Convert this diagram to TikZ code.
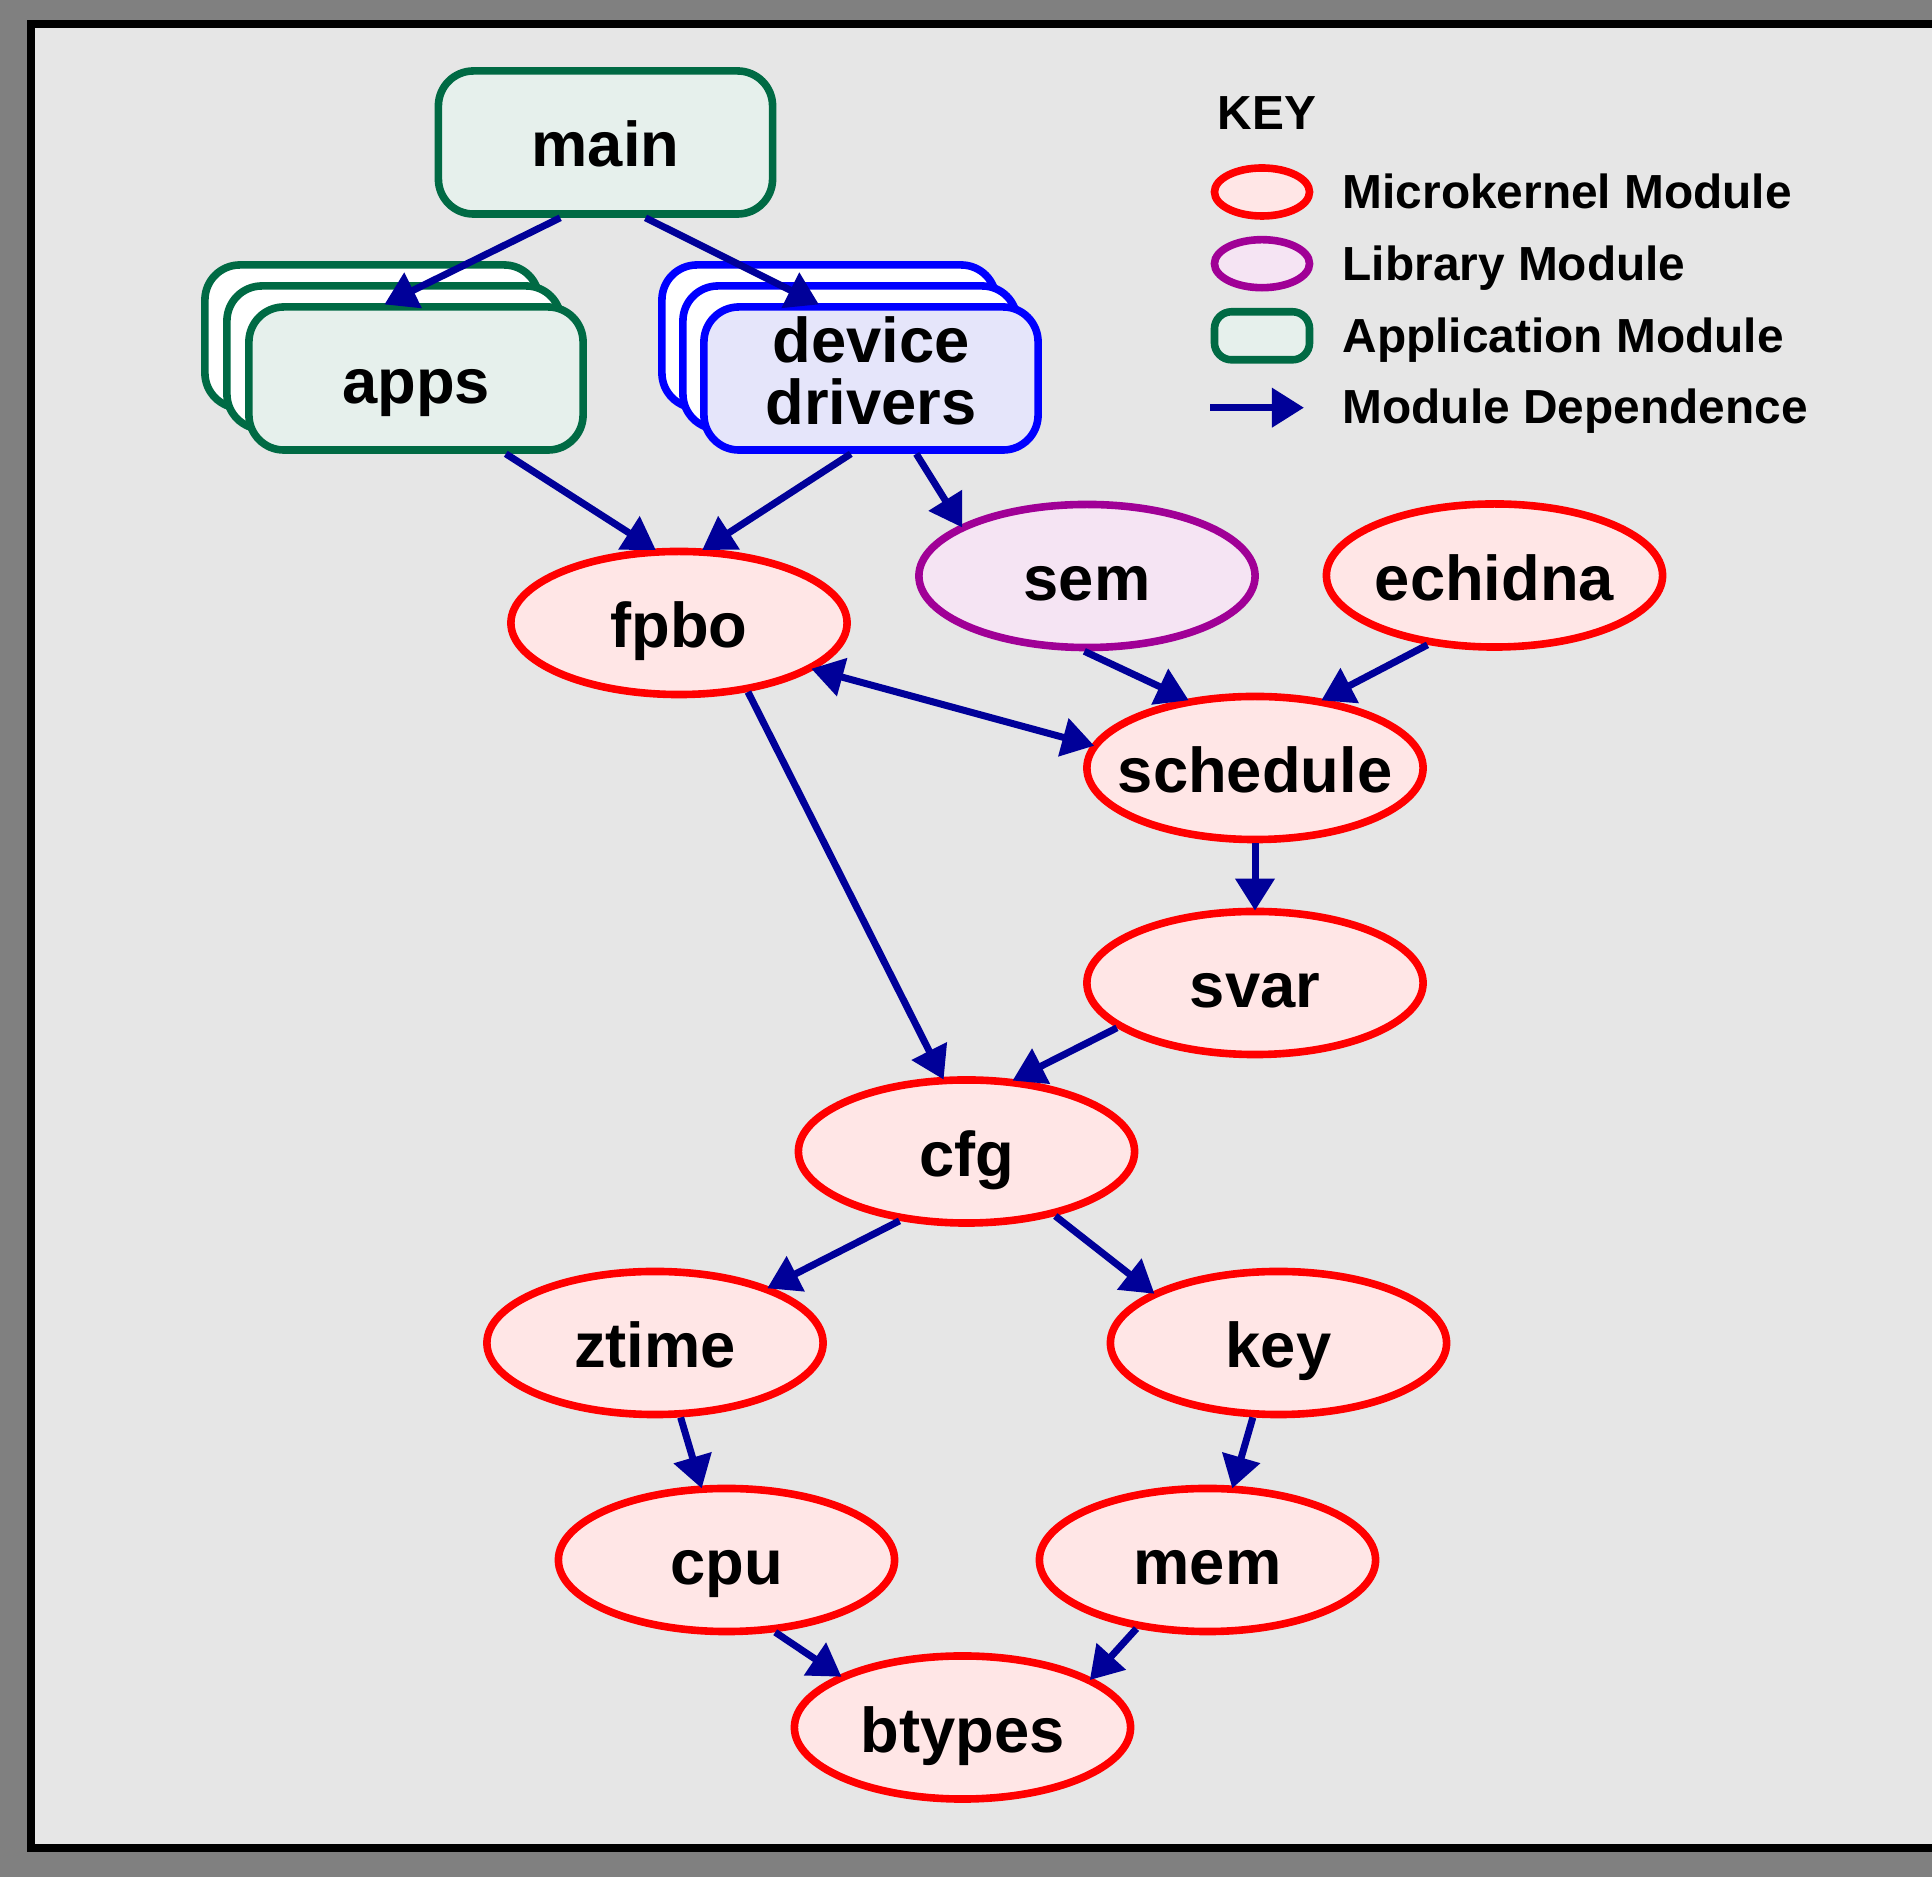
\documentclass[tikz,border=0pt]{standalone}
\usepackage{fontspec}
\setmainfont{Liberation Sans}
\usetikzlibrary{shapes.geometric,arrows.meta}
\definecolor{kframe}{RGB}{128,128,128}
\definecolor{kbg}{RGB}{230,230,230}
\definecolor{kred}{RGB}{255,0,0}
\definecolor{kredfill}{RGB}{255,230,230}
\definecolor{klib}{RGB}{160,0,150}
\definecolor{klibfill}{RGB}{245,228,243}
\definecolor{kapp}{RGB}{0,106,68}
\definecolor{kappfill}{RGB}{230,240,236}
\definecolor{kdrv}{RGB}{0,0,255}
\definecolor{kdrvfill}{RGB}{229,229,250}
\definecolor{kdep}{RGB}{0,0,153}
\begin{document}
\begin{tikzpicture}[x=0.01cm,y=-0.01cm,
    >={Triangle[length=0.32cm,width=0.38cm]},
    modtext/.style={font=\fontsize{18}{17.8}\selectfont\bfseries,
      text height=0.5cm,text depth=0.01cm,inner sep=0pt},
    keytext/.style={font=\fontsize{13.6}{15}\selectfont\bfseries,
      inner sep=0pt,anchor=base west},
    micro/.style={ellipse,draw=kred,fill=kredfill,line width=0.076cm,inner sep=0pt},
    lib/.style={micro,draw=klib,fill=klibfill},
    app/.style={rectangle,draw=kapp,fill=kappfill,line width=0.076cm,inner sep=0pt},
    drv/.style={app,draw=kdrv,fill=kdrvfill},
    module/.style={minimum width=3.36cm,minimum height=1.43cm,
      label={[modtext]center:#1}},
    box/.style={rounded corners=0.35cm,minimum width=3.34cm,
      minimum height=1.43cm,modtext},
    keyshape/.style={minimum width=0.95cm,minimum height=0.48cm}]
  \useasboundingbox (0,0) rectangle (1932,1877);
  \clip (0,0) rectangle (1932,1877);
  \fill[kframe] (0,0) rectangle (1932,1877);
  \draw[line width=0.08cm,fill=kbg] (31,24) rectangle (1970,1848);

  % application side
  \node[app,box] (main) at (605.5,142.5) {main};
  \node[app,box,fill=white] (apps3) at (372,336.5) {};
  \node[app,box,fill=white] (apps2) at (394,357.5) {};
  \node[app,box] (apps) at (416,378.5) {apps};
  \node[drv,box,fill=white] (drivers3) at (829,336.5) {};
  \node[drv,box,fill=white] (drivers2) at (850,357.5) {};
  \node[drv,box] (drivers) at (871,378.5) {};
  \node[align=center,font=\fontsize{18}{17.8}\selectfont\bfseries,inner sep=0pt]
    (driverstext) at (871,371) {device\\drivers};

  % kernel modules
  \node[lib,module=sem] (sem) at (1087,576) {};
  \node[micro,module=echidna] (echidna) at (1494.5,575.5) {};
  \node[micro,module=fpbo] (fpbo) at (679,623) {};
  \node[micro,module=schedule] (schedule) at (1255,768) {};
  \node[micro,module=svar] (svar) at (1255,983) {};
  \node[micro,module=cfg] (cfg) at (966.5,1151.5) {};
  \node[micro,module=ztime] (ztime) at (655,1343) {};
  \node[micro,module=key] (key) at (1278.5,1343) {};
  \node[micro,module=cpu] (cpu) at (726.5,1560) {};
  \node[micro,module=mem] (mem) at (1207.5,1560) {};
  \node[micro,module=btypes] (btypes) at (962.5,1727.5) {};

  \begin{scope}[->,draw=kdep,line width=0.07cm,shorten >=-0.03cm]
    \draw (main.239) to (apps.111);
    \draw (main.298) to (drivers.126);
    \draw (apps.320) to (fpbo.109);
    \draw (drivers.255) to (fpbo.71);
    \draw (drivers.301) to (sem.158);
    \draw (sem.268) to (schedule.135);
    \draw (echidna.226) to (schedule.45);
    \draw[<->,shorten <=-0.03cm] (fpbo.341) to (schedule.172);
    \draw (schedule.270) to (svar.90);
    \draw (fpbo.315) to (cfg.108);
    \draw (svar.198) to (cfg.56);
    \draw (cfg.226) to (ztime.26);
    \draw (cfg.324) to (key.158);
    \draw (ztime.289) to (cpu.109);
    \draw (key.251) to (mem.71);
    \draw (cpu.304) to (btypes.157);
    \draw (mem.224) to (btypes.21);
  \end{scope}

  % key
  \node[keytext] (keyhead) at (1217,130) {KEY};
  \node[micro,keyshape] (keymicro) at (1262,192) {};
  \node[keytext] (keymicrotext) at (1342,208.3) {Microkernel Module};
  \node[lib,keyshape] (keylib) at (1262,263.7) {};
  \node[keytext] (keylibtext) at (1342,280.7) {Library Module};
  \node[app,keyshape,rounded corners=0.17cm] (keyapp) at (1262,335.8) {};
  \node[keytext] (keyapptext) at (1342,352.7) {Application Module};
  \coordinate (keyfrom) at (1210,407.7);
  \coordinate (keyto) at (1304,407.7);
  \draw[->,draw=kdep,line width=0.07cm] (keyfrom) -- (keyto);
  \node[keytext] (keydeptext) at (1342,424) {Module Dependence};
\end{tikzpicture}
\end{document}
